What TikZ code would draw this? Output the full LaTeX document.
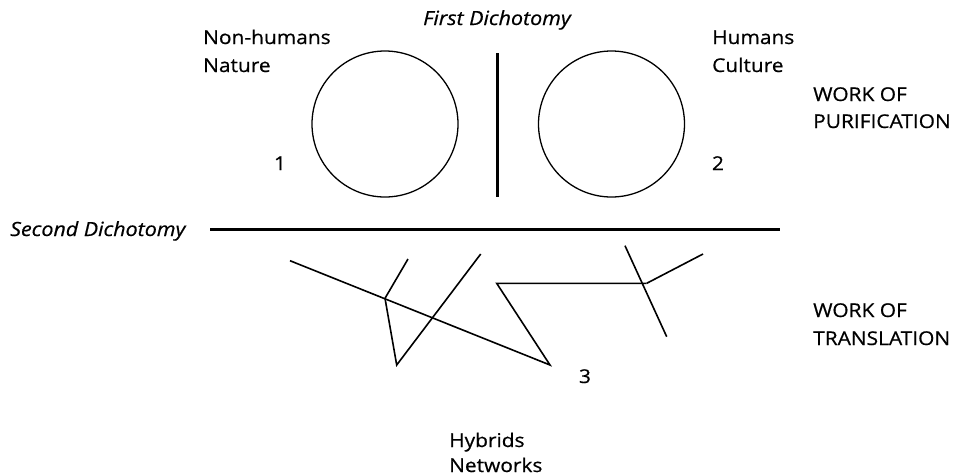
\documentclass[tikz,border=0pt]{standalone}
\usepackage{fontspec}
\setmainfont{Open Sans}
\newfontfamily\widesans[FakeStretch=1.1,FakeBold=0.6]{Open Sans}
\begin{document}
\begin{tikzpicture}[x=1pt,y=-1pt,
  lbl/.style={inner sep=0pt,font=\widesans\fontsize{19}{27}\selectfont,anchor=base west},
  num/.style={inner sep=0pt,font=\widesans\fontsize{19}{27}\selectfont,anchor=base},
  ital/.style={inner sep=0pt,font=\widesans\fontsize{19.5}{27}\selectfont\itshape},
  ring/.style={draw,circle,line width=1.3pt,minimum size=146pt,inner sep=0pt},
  thick line/.style={line width=3pt},
  net/.style={line width=1.6pt,line join=miter}]
\useasboundingbox (0,0) rectangle (959,475);
% circles
\node[ring] (c1) at (385,124) {};
\node[ring] (c2) at (611.5,124) {};
% first dichotomy
\coordinate (v1) at (497.7,53);
\coordinate (v2) at (497.7,197);
\draw[thick line] (v1) -- (v2);
\node[ital,anchor=base] (fd) at (497,25) {First Dichotomy};
% second dichotomy
\coordinate (h1) at (210,229);
\coordinate (h2) at (780,229);
\draw[thick line] (h1) -- (h2);
\node[ital,anchor=base west] (sd) at (10,236) {Second Dichotomy};
% labels
\node[lbl] (nh1) at (203,44) {Non-humans};
\node[lbl] (nh2) at (203,72) {Nature};
\node[lbl] (hc1) at (712,44) {Humans};
\node[lbl] (hc2) at (712,72) {Culture};
\node[lbl] (wp1) at (813,101) {WORK OF};
\node[lbl] (wp2) at (813,128) {PURIFICATION};
\node[lbl] (wt1) at (813,317) {WORK OF};
\node[lbl] (wt2) at (813,345) {TRANSLATION};
\node[lbl] (hn1) at (449,447) {Hybrids};
\node[lbl] (hn2) at (449,472) {Networks};
\node[num] (n1) at (280,170) {1};
\node[num] (n2) at (718,170) {2};
\node[num] (n3) at (585,383) {3};
% network
\coordinate (a1) at (290,260.7);
\coordinate (a2) at (385,298.3);
\coordinate (a3) at (550,365);
\coordinate (b1) at (408,259);
\coordinate (b2) at (396.7,365);
\coordinate (b3) at (480.7,254);
\coordinate (d1) at (496.7,283.3);
\coordinate (d2) at (646.7,283.3);
\coordinate (e1) at (625,245.7);
\coordinate (e2) at (666.7,336.7);
\coordinate (e3) at (703,254);
\draw[net] (a1) -- (a3) -- (d1) -- (d2);
\draw[net] (b1) -- (a2) -- (b2) -- (b3);
\draw[net] (e1) -- (e2);
\draw[net] (d2) -- (e3);
\end{tikzpicture}
\end{document}
